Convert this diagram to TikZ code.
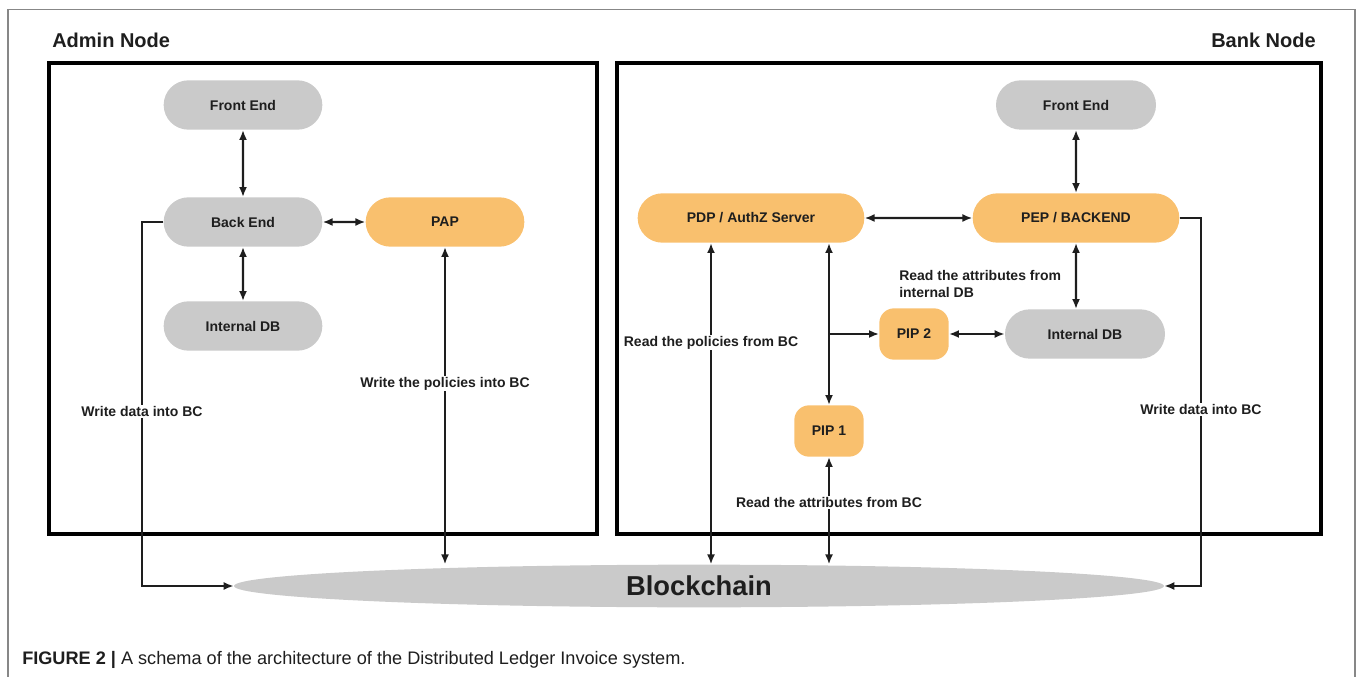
\documentclass[tikz,border=0pt]{standalone}
\usepackage{fontspec}
\setmainfont{Liberation Sans}
\usetikzlibrary{arrows.meta,shapes.misc,shapes.geometric}
\definecolor{boxgray}{RGB}{202,202,202}
\definecolor{boxorange}{RGB}{249,192,110}
\definecolor{framegray}{RGB}{135,135,135}
\definecolor{ink}{RGB}{30,30,30}
\begin{document}
\begin{tikzpicture}[x=0.75pt,y=-0.75pt,
  lbl/.style={font=\bfseries\fontsize{10.5}{12.5}\selectfont, text=ink},
  pill/.style={lbl, rounded rectangle, draw=none, inner sep=0pt,
    minimum height=37pt},
  graynode/.style={pill, fill=boxgray},
  orangenode/.style={pill, fill=boxorange},
  pipnode/.style={lbl, rectangle, rounded corners=11pt, fill=boxorange,
    inner sep=0pt, minimum width=52pt, minimum height=38.5pt},
  region/.style={draw=black, line width=2.6pt},
  conn/.style={draw=ink, line width=1.7pt},
  both/.style={conn, {Latex[length=7.5pt,width=6pt]}-{Latex[length=7.5pt,width=6pt]}},
  one/.style={conn, -{Latex[length=7.5pt,width=6pt]}},
  tag/.style={lbl, fill=white, inner sep=1pt},
  title/.style={font=\bfseries\fontsize{15}{18}\selectfont, text=ink, inner sep=0pt}]

\useasboundingbox (0,0) rectangle (1357,677);

% figure frame (open at the bottom)
\draw[framegray, line width=0.9pt] (8,677) -- (8,9.5) -- (1355,9.5) -- (1355,677);

% node regions
\draw[region] (49,63) rectangle (597,534);
\draw[region] (617,63) rectangle (1321,534);
\node[title, anchor=west] (admint) at (52,40) {Admin Node};
\node[title, anchor=east] (bankt) at (1316,40) {Bank Node};

% blockchain
\node[ellipse, fill=boxgray, inner sep=0pt, minimum width=697.5pt,
  minimum height=32pt, font=\bfseries\fontsize{20.5}{24}\selectfont, text=ink]
  (bc) at (699,586) {Blockchain};

% admin node components
\node[graynode, minimum width=119pt] (afe) at (243,105) {Front End};
\node[graynode, minimum width=119pt] (abe) at (243,222) {Back End};
\node[graynode, minimum width=119pt] (adb) at (243,326) {Internal DB};
\node[orangenode, minimum width=119pt] (pap) at (445,222) {PAP};

% bank node components
\node[graynode, minimum width=120pt] (bfe) at (1076,105) {Front End};
\node[orangenode, minimum width=170pt] (pdp) at (751,218) {PDP / AuthZ Server};
\node[orangenode, minimum width=155pt] (pep) at (1076,218) {PEP / BACKEND};
\node[graynode, minimum width=120pt] (bdb) at (1085,334) {Internal DB};
\node[pipnode] (pip2) at (914,334) {PIP 2};
\node[pipnode] (pip1) at (829,431) {PIP 1};

% helper points for the vertical links
\coordinate (pl) at (711,243);
\coordinate (pr) at (829,243);

% admin links
\draw[both] (afe) -- (abe);
\draw[both] (abe) -- (adb);
\draw[both] (abe) -- (pap);
\draw[both] (pap.south) -- (pap.south |- bc.north)
  node[tag, pos=0.43] (wpol) {Write the policies into BC};
\draw[one] (abe.west) -- (142,222) -- (142,586)
  node[tag, pos=0.52] (wdata) {Write data into BC} -- (bc.west);

% bank links
\draw[both] (bfe) -- (pep);
\draw[both] (pep) -- (bdb.north -| pep);
\draw[both] (pdp) -- (pep);
\draw[both] (pip2) -- (bdb);
\draw[both] (pl) -- (pl |- bc.north)
  node[tag, pos=0.31] (rpol) {Read the policies from BC};
\draw[both] (pr) -- (pip1.north);
\draw[one] (pr |- pip2) -- (pip2.west);
\draw[both] (pip1.south) -- (pip1.south |- bc.north)
  node[tag, pos=0.42] (ratt) {Read the attributes from BC};
\draw[one] (pep.east) -- (1201,218) -- (1201,586)
  node[tag, pos=0.52] (wdata2) {Write data into BC} -- (bc.east);
\node[lbl, anchor=north west, align=left, inner sep=0pt] (rint) at (899,270)
  {Read the attributes from\\internal DB};

% caption
\node[anchor=west, inner sep=0pt, font=\fontsize{13.6}{16}\selectfont, text=ink]
  (cap) at (22,660) {\textbf{FIGURE 2 |} A schema of the architecture of the Distributed Ledger Invoice system.};
\end{tikzpicture}
\end{document}
